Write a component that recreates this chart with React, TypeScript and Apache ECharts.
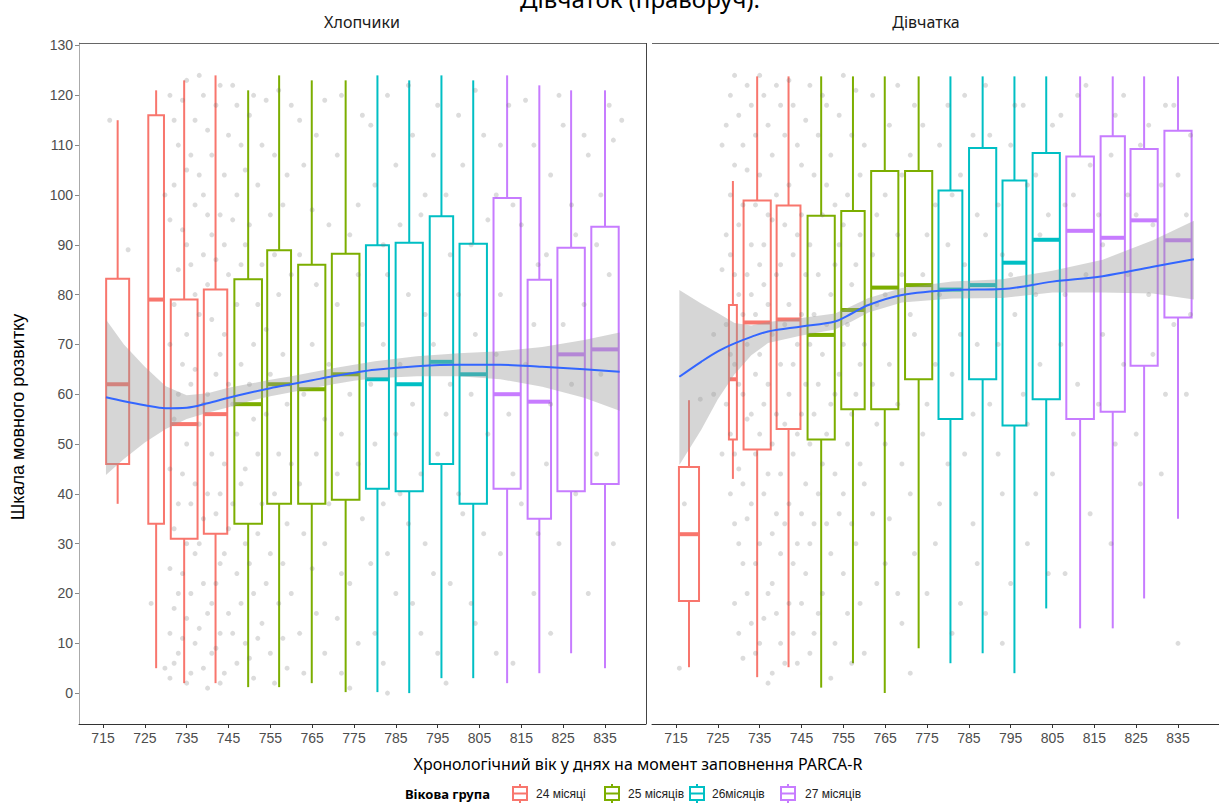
import React, { useEffect, useRef } from "react";
import * as echarts from "echarts";

// ---------- data ----------
const groupNames = ["24 місяці", "25 місяців", "26місяців", "27 місяців"];
const groupColors = ["#F8766D", "#7CAE00", "#00BFC4", "#C77CFF"];
const xTicks = [715, 725, 735, 745, 755, 765, 775, 785, 795, 805, 815, 825, 835];
const yTicks = [0, 10, 20, 30, 40, 50, 60, 70, 80, 90, 100, 110, 120, 130];
const facetNames = ["Хлопчики", "Дівчатка"];

const boxGroup = [0, 0, 0, 0, 1, 1, 1, 1, 2, 2, 2, 2, 3, 3, 3, 3];

// boys
const boysDays = [718.5, 727.7, 734.4, 741.9, 749.7, 757.1, 764.9, 773.0, 780.6, 788.2, 795.9, 803.5, 811.6, 819.3, 826.9, 835.0];
const boysWidthDays = [5.5, 3.75, 6.4, 5.6, 6.6, 5.7, 6.5, 6.6, 5.5, 6.5, 5.6, 6.55, 6.5, 5.6, 6.55, 6.55];
const boysLow = [38, 5, 2, 2, 1.2, 1.2, 2, 0.2, 0.2, 0, 3, 3, 2, 4, 8, 5];
const boysQ1 = [46, 34, 31, 32, 34, 38, 38, 38.8, 41, 40.5, 46, 38, 41, 35, 40.5, 42];
const boysMed = [62, 79, 54, 56, 58, 62, 61, 64, 63, 62, 66.5, 64, 60, 58.5, 68, 69];
const boysQ3 = [83.2, 116, 79, 81, 83.1, 88.9, 86, 88.2, 89.9, 90.4, 95.7, 90.2, 99.4, 83, 89.4, 93.6];
const boysHigh = [115, 121, 123, 124, 121, 124, 123, 123, 124, 123, 124, 123, 124, 122, 121, 121];

// girls
const girlsDays = [718.1, 728.6, 734.4, 741.9, 749.7, 757.3, 764.9, 773.0, 780.6, 788.3, 795.9, 803.5, 811.6, 819.4, 826.9, 835.0];
const girlsWidthDays = [4.8, 1.9, 6.5, 5.7, 6.5, 5.6, 6.5, 6.5, 5.7, 6.5, 5.7, 6.5, 6.6, 5.8, 6.5, 6.5];
const girlsLow = [5.2, 43, 3.2, 5.2, 1.1, 6, 0, 9, 6, 8, 4, 17, 13, 13, 19, 35];
const girlsQ1 = [18.5, 50.9, 48.9, 53, 50.9, 57, 57, 63, 55, 63, 53.7, 59, 55, 56.5, 65.7, 75.4];
const girlsMed = [31.9, 63, 74.4, 75, 71.9, 76.9, 81.4, 81.9, 81, 81.9, 86.4, 91, 92.8, 91.4, 94.9, 90.9];
const girlsQ3 = [45.4, 77.9, 98.9, 97.9, 95.8, 96.8, 104.8, 104.8, 100.9, 109.4, 102.9, 108.4, 107.7, 111.8, 109.2, 112.9];
const girlsHigh = [58.8, 102.8, 123.8, 123.8, 123.8, 123.8, 123.8, 123.8, 123.8, 123.8, 123.8, 123.8, 123.8, 123.8, 123.8, 123.8];

// loess fits
const boysFitDays = [715.7, 720, 725, 730, 735, 740, 745, 750, 755, 760, 765, 770, 775, 780, 790, 800, 810, 820, 830, 838.5];
const boysFit = [59.4, 58.6, 57.8, 57.2, 57.3, 58.2, 59.3, 60.3, 61.2, 62.0, 62.8, 63.6, 64.3, 64.9, 65.6, 65.9, 65.9, 65.5, 65.0, 64.5];
const boysFitLo = [43.8, 47.0, 50.3, 53.0, 55.0, 56.3, 57.4, 58.6, 59.6, 60.4, 61.2, 62.0, 62.7, 63.2, 63.6, 63.6, 63.0, 61.5, 59.3, 56.7];
const boysFitHi = [75.0, 70.0, 65.5, 61.6, 59.8, 60.2, 61.3, 62.1, 62.9, 63.6, 64.4, 65.2, 65.9, 66.6, 67.6, 68.2, 68.6, 69.5, 70.9, 72.4];

const girlsFitDays = [715.8, 721, 725, 729, 733, 737, 745, 753, 757, 761, 769, 781, 793, 805, 817, 829, 838.8];
const girlsFit = [63.5, 66.5, 68.6, 70.2, 71.5, 72.6, 73.6, 74.6, 76.2, 77.9, 79.9, 80.9, 81.1, 82.6, 83.7, 85.6, 87.1];
const girlsFitLo = [45.8, 52.8, 59.0, 64.0, 67.8, 70.3, 71.8, 73.0, 74.6, 76.4, 78.4, 79.2, 79.3, 80.4, 80.4, 80.2, 79.0];
const girlsFitHi = [80.9, 78.2, 76.3, 74.3, 73.8, 74.5, 75.3, 76.2, 77.7, 79.3, 81.3, 82.6, 83.1, 84.8, 87.0, 90.9, 94.8];

// individual observations (approximate, read by column: day -> scores)
const boysDots: [number, number[]][] = [
  [716.6, [115]], [721, [89]], [726.5, [18]], [729.8, [5, 100]],
  [731, [120, 95, 70, 45, 25, 12, 3]], [732, [115, 102, 78, 55, 33, 17, 6]],
  [733, [110, 85, 60, 38, 20, 8]], [734, [119, 93, 66, 44, 24, 11]],
  [735, [123, 105, 90, 72, 50, 30, 15, 2]], [736, [108, 86, 62, 38, 20, 4]],
  [737, [115, 98, 80, 65, 42, 28, 10]], [738, [124, 104, 76, 54, 30, 13]],
  [739, [120, 100, 88, 58, 35, 22, 5]], [740, [113, 96, 82, 60, 40, 16, 1]],
  [741, [108, 92, 75, 48, 18, 8]], [742, [118, 87, 64, 36, 22, 9]],
  [743, [122, 96, 68, 40, 26, 12, 2]], [744, [104, 90, 72, 46, 28, 4]],
  [745, [112, 84, 62, 33, 16]], [746, [122, 95, 58, 38, 12]],
  [747, [118, 100, 78, 52, 24, 6]], [748, [110, 86, 66, 42, 18]],
  [749, [105, 90, 45, 30, 10]], [750, [116, 94, 62, 26, 7]],
  [751, [120, 70, 55, 20, 3]], [752, [102, 78, 48, 32, 11]],
  [753, [110, 86, 38, 14]], [754, [119, 73, 56, 22]], [755, [96, 64, 28, 8]],
  [756, [108, 88, 40, 2]], [757, [121, 80, 48, 18]], [758, [98, 68, 26, 11]],
  [759, [104, 58, 34, 5]], [760, [118, 84, 46, 20]], [762, [115, 88, 42, 12]],
  [763, [106, 60, 32, 4]], [765, [97, 70, 25]], [766, [112, 82, 48, 16]],
  [768, [119, 55, 30, 8]], [769, [94, 66, 38]], [771, [108, 78, 44, 15]],
  [772, [120, 52, 24, 4]], [774, [92, 60, 22, 1]], [776, [98, 84, 46, 10]],
  [777, [116, 74, 35]], [779, [114, 62, 26]], [780, [102, 50, 12]],
  [782, [90, 70, 38, 6]], [783, [120, 84, 28, 0]], [785, [106, 52, 20]],
  [786, [94, 66, 40]], [788, [122, 80, 34]], [789, [112, 58, 18]],
  [791, [96, 44, 12]], [792, [100, 76, 30]], [794, [108, 70, 24]],
  [795, [118, 48, 8]], [797, [100, 56, 2]], [798, [88, 62, 22]],
  [800, [116, 80, 40]], [801, [106, 36]], [803, [90, 60, 18]],
  [804, [121, 72, 14]], [806, [112, 32]], [807, [95, 52]], [809, [100, 68, 8]],
  [810, [110, 80, 28]], [812, [118, 56]], [813, [98, 44, 6]], [815, [94, 38]],
  [816, [119, 66]], [818, [110, 74, 20]], [819, [86, 32]], [821, [88, 46]],
  [822, [104, 58, 12]], [824, [120, 30]], [825, [114, 74]], [827, [98, 62]],
  [828, [92, 40]], [830, [112, 78]], [831, [108, 20]], [833, [90, 48]],
  [834, [100, 64]], [836, [118, 84]], [837, [111, 30]], [839, [115]],
];
const girlsDots: [number, number[]][] = [
  [715.8, [5]], [717, [38]], [720.8, [59]], [724, [60, 72]], [726, [48, 85, 110]],
  [727, [114, 92, 74, 58]], [728, [120, 100, 88, 68, 52, 40]],
  [729, [124, 106, 84, 66, 48, 34, 18]], [730, [116, 94, 80, 62, 45, 30, 12]],
  [731, [110, 98, 76, 60, 42, 26, 7]], [732, [122, 105, 84, 70, 55, 35, 20]],
  [733, [118, 90, 80, 56, 38, 14]], [734, [112, 98, 76, 64, 48, 26, 8]],
  [735, [124, 104, 86, 68, 52, 30, 10]], [736, [120, 90, 82, 58, 40, 15]],
  [737, [114, 96, 78, 62, 44, 20, 2]], [738, [108, 95, 72, 50, 32, 22, 4]],
  [739, [122, 100, 84, 56, 36, 16]], [740, [118, 86, 66, 44, 28, 10]],
  [741, [112, 94, 74, 54, 34, 6]], [742, [123, 102, 78, 60, 38, 18]],
  [743, [118, 88, 66, 48, 26, 12]], [744, [110, 92, 70, 52, 30, 6]],
  [745, [106, 96, 76, 56, 36, 18]], [746, [115, 84, 62, 42, 24]],
  [747, [122, 90, 70, 50, 30, 8]], [748, [104, 76, 56, 34, 12]],
  [749, [112, 84, 62, 40, 16]], [750, [120, 96, 68, 46, 20]],
  [751, [118, 102, 74, 52, 34]], [752, [108, 80, 58, 28, 3]],
  [753, [98, 86, 60, 44, 10]], [754, [116, 90, 64, 36]],
  [755, [124, 94, 70, 40, 24]], [756, [100, 74, 50, 16]],
  [757, [112, 82, 56, 34, 6]], [758, [121, 86, 60, 30]],
  [759, [104, 92, 66, 46, 18]], [760, [110, 70, 42, 8]],
  [762, [120, 88, 62, 36]], [763, [96, 78, 54, 22]], [765, [100, 80, 50, 26]],
  [766, [114, 66, 35]], [768, [122, 92, 58, 20]], [769, [104, 84, 46, 14]],
  [771, [108, 76, 40, 4]], [772, [118, 72, 28]], [774, [114, 84, 52]],
  [775, [92, 58, 20]], [777, [98, 66, 30]], [778, [110, 80, 38]],
  [780, [118, 90, 46]], [781, [100, 64, 12]], [783, [104, 72, 18]],
  [784, [120, 86, 48]], [786, [112, 56, 34]], [787, [96, 70, 26]],
  [789, [122, 92, 16]], [790, [112, 58]], [792, [98, 70, 48]], [793, [88, 40, 10]],
  [795, [110, 84, 22]], [796, [118, 76]], [798, [118, 60]], [799, [102, 54, 30]],
  [801, [104, 80, 40]], [802, [92, 66]], [804, [96, 24]], [805, [114, 44]],
  [807, [116, 70]], [808, [98, 80, 24]], [810, [100, 52]], [811, [120, 62]],
  [813, [122, 84]], [814, [106, 36]], [816, [96, 58]], [817, [90, 72]],
  [819, [108, 30]], [820, [116, 50]], [822, [120, 66]], [823, [100, 84]],
  [825, [96, 52]], [826, [110, 42]], [828, [114, 80]], [829, [94, 68]],
  [831, [102, 44]], [832, [118, 60]], [834, [118, 74]], [835, [104, 10]],
  [837, [96, 60]], [838, [112, 76]],
];

// ---------- helpers ----------
const boxRows = (days, w, lo, q1, md, q3, hi) =>
  days.map((d, i) => [d, w[i], lo[i], q1[i], md[i], q3[i], hi[i], boxGroup[i]]);
const dotRows = (cols) => {
  const out = [];
  cols.forEach(([d, ys]) => ys.forEach((y) => out.push([d, y])));
  return out;
};

const renderBox = (params, api) => {
  const x = api.value(0);
  const hw = api.value(1) / 2;
  const lo = api.value(2), q1 = api.value(3), md = api.value(4), q3 = api.value(5), hi = api.value(6);
  const color = groupColors[api.value(7)];
  const tl = api.coord([x - hw, q3]);
  const br = api.coord([x + hw, q1]);
  const pHi = api.coord([x, hi]);
  const pLo = api.coord([x, lo]);
  const mL = api.coord([x - hw, md]);
  const mR = api.coord([x + hw, md]);
  const cx = (tl[0] + br[0]) / 2;
  return {
    type: "group",
    children: [
      { type: "line", shape: { x1: cx, y1: pHi[1], x2: cx, y2: tl[1] }, style: { stroke: color, lineWidth: 2 } },
      { type: "line", shape: { x1: cx, y1: br[1], x2: cx, y2: pLo[1] }, style: { stroke: color, lineWidth: 2 } },
      {
        type: "rect",
        shape: { x: tl[0], y: tl[1], width: br[0] - tl[0], height: br[1] - tl[1] },
        style: { fill: "none", stroke: color, lineWidth: 2 },
      },
      { type: "line", shape: { x1: mL[0], y1: mL[1], x2: mR[0], y2: mR[1] }, style: { stroke: color, lineWidth: 4 } },
    ],
  };
};

const bandRenderer = (days, lo, hi) => (params, api) => {
  if (params.dataIndex !== 0) return null;
  const pts = [];
  for (let i = 0; i < days.length; i++) pts.push(api.coord([days[i], hi[i]]));
  for (let i = days.length - 1; i >= 0; i--) pts.push(api.coord([days[i], lo[i]]));
  return { type: "polygon", shape: { points: pts, smooth: 0 }, style: { fill: "rgba(153,153,153,0.4)", stroke: "none" } };
};

// ---------- layout ----------
const X_MIN = 709.26;
const X_MAX = 844.8;
const Y_MIN = -6.2;
const Y_MAX = 130.5;
const PLOT_TOP = 43;
const PLOT_H = 681;
const PANEL_W = 567;
const PANEL_LEFT = [79, 652];

export default function App() {
  const ref = useRef<HTMLDivElement>(null);
  useEffect(() => {
    if (!ref.current) return;
    const chart = echarts.init(ref.current, null, { renderer: "svg" });
    const labelFont = "'Liberation Sans', Arial, sans-serif";
    const makeX = (gi) => ({
      type: "value",
      gridIndex: gi,
      min: X_MIN,
      max: X_MAX,
      axisLine: { show: true, onZero: false, lineStyle: { color: "#333", width: 1 } },
      axisTick: { show: true, customValues: xTicks, length: 4, lineStyle: { color: "#333" } },
      axisLabel: { show: true, customValues: xTicks, color: "#4d4d4d", fontSize: 14, fontFamily: labelFont, margin: 7 },
      splitLine: { show: false },
    });
    const makeY = (gi) => ({
      type: "value",
      gridIndex: gi,
      min: Y_MIN,
      max: Y_MAX,
      axisLine: { show: gi === 0, onZero: false, lineStyle: { color: "#aaa", width: 1 } },
      axisTick: { show: gi === 0, customValues: yTicks, length: 4, lineStyle: { color: "#888" } },
      axisLabel: { show: gi === 0, customValues: yTicks, color: "#4d4d4d", fontSize: 14, fontFamily: labelFont, margin: 6 },
      splitLine: { show: false },
    });

    const panels = [
      {
        boxes: boxRows(boysDays, boysWidthDays, boysLow, boysQ1, boysMed, boysQ3, boysHigh),
        dots: dotRows(boysDots),
        fd: boysFitDays, f: boysFit, lo: boysFitLo, hi: boysFitHi,
      },
      {
        boxes: boxRows(girlsDays, girlsWidthDays, girlsLow, girlsQ1, girlsMed, girlsQ3, girlsHigh),
        dots: dotRows(girlsDots),
        fd: girlsFitDays, f: girlsFit, lo: girlsFitLo, hi: girlsFitHi,
      },
    ];

    const series = [];
    panels.forEach((p, gi) => {
      series.push({
        type: "custom",
        xAxisIndex: gi,
        yAxisIndex: gi,
        renderItem: renderBox,
        encode: { x: 0, y: [2, 6] },
        data: p.boxes,
        z: 2,
      });
      series.push({
        type: "scatter",
        xAxisIndex: gi,
        yAxisIndex: gi,
        data: p.dots,
        symbolSize: 5,
        itemStyle: { color: "rgba(110,110,110,0.3)" },
        z: 3,
      });
      series.push({
        type: "custom",
        xAxisIndex: gi,
        yAxisIndex: gi,
        renderItem: bandRenderer(p.fd, p.lo, p.hi),
        encode: { x: 0, y: [1, 2] },
        data: p.fd.map((d, i) => [d, p.lo[i], p.hi[i]]),
        z: 4,
      });
      series.push({
        type: "line",
        xAxisIndex: gi,
        yAxisIndex: gi,
        data: p.fd.map((d, i) => [d, p.f[i]]),
        showSymbol: false,
        smooth: 0.35,
        lineStyle: { color: "#3366FF", width: 2 },
        z: 5,
      });
    });

    const legendStarts = [520, 612, 697, 788];
    const legendLabelX = [536, 628, 712, 805];
    const legendGraphics = [];
    groupNames.forEach((name, i) => {
      const cx = legendStarts[i];
      const c = groupColors[i];
      legendGraphics.push(
        { type: "line", shape: { x1: cx, y1: 784, x2: cx, y2: 787 }, style: { stroke: c, lineWidth: 2 } },
        { type: "line", shape: { x1: cx, y1: 800, x2: cx, y2: 803 }, style: { stroke: c, lineWidth: 2 } },
        { type: "rect", shape: { x: cx - 7, y: 787, width: 14, height: 13 }, style: { fill: "#fff", stroke: c, lineWidth: 2 } },
        { type: "line", shape: { x1: cx - 7, y1: 793.5, x2: cx + 7, y2: 793.5 }, style: { stroke: c, lineWidth: 2 } },
        {
          type: "text",
          x: legendLabelX[i],
          y: 794,
          style: { text: name, fill: "#222", fontSize: 12, fontFamily: labelFont, verticalAlign: "middle", textAlign: "left" },
        }
      );
    });

    chart.setOption({
      animation: false,
      backgroundColor: "#ffffff",
      grid: PANEL_LEFT.map((l) => ({ left: l, top: PLOT_TOP, width: PANEL_W, height: PLOT_H, containLabel: false })),
      xAxis: [makeX(0), makeX(1)],
      yAxis: [makeY(0), makeY(1)],
      series,
      graphic: [
        // panel borders
        { type: "line", shape: { x1: 79, y1: 43.5, x2: 646, y2: 43.5 }, style: { stroke: "#666", lineWidth: 1 }, z: 10 },
        { type: "line", shape: { x1: 646.5, y1: 43, x2: 646.5, y2: 724 }, style: { stroke: "#444", lineWidth: 1 }, z: 10 },
        { type: "line", shape: { x1: 652, y1: 43.5, x2: 1219, y2: 43.5 }, style: { stroke: "#666", lineWidth: 1 }, z: 10 },
        // caption line above the figure, cut off at the top edge as in the source
        {
          type: "text",
          x: 640,
          y: 10,
          style: { text: "Дівчаток (праворуч).", fill: "#000", fontSize: 24, fontFamily: "'Noto Sans', sans-serif", textAlign: "center", verticalAlign: "bottom" },
        },
        // facet labels
        {
          type: "text",
          x: 362,
          y: 22,
          style: { text: facetNames[0], fill: "#1a1a1a", fontSize: 16, fontFamily: "'Noto Sans', sans-serif", textAlign: "center", verticalAlign: "middle" },
        },
        {
          type: "text",
          x: 926,
          y: 22,
          style: { text: facetNames[1], fill: "#1a1a1a", fontSize: 16, fontFamily: "'Noto Sans', sans-serif", textAlign: "center", verticalAlign: "middle" },
        },
        // axis titles
        {
          type: "text",
          x: 638,
          y: 764,
          style: {
            text: "Хронологічний вік у днях на момент заповнення PARCA-R",
            fill: "#000",
            fontSize: 16,
            fontFamily: "'Noto Sans', sans-serif",
            textAlign: "center",
            verticalAlign: "middle",
          },
        },
        {
          type: "text",
          x: 18,
          y: 417,
          rotation: Math.PI / 2,
          style: { text: "Шкала мовного розвитку", fill: "#000", fontSize: 18, fontFamily: labelFont, textAlign: "center", verticalAlign: "middle" },
        },
        // legend
        {
          type: "text",
          x: 405,
          y: 794,
          style: { text: "Вікова група", fill: "#000", fontSize: 13, fontWeight: "bold", fontFamily: "'Noto Sans', sans-serif", textAlign: "left", verticalAlign: "middle" },
        },
        ...legendGraphics,
      ],
    });
    return () => chart.dispose();
  }, []);
  return <div ref={ref} style={{ position: "absolute", left: 0, top: 0, width: 1219, height: 806, background: "#fff" }} />;
}
